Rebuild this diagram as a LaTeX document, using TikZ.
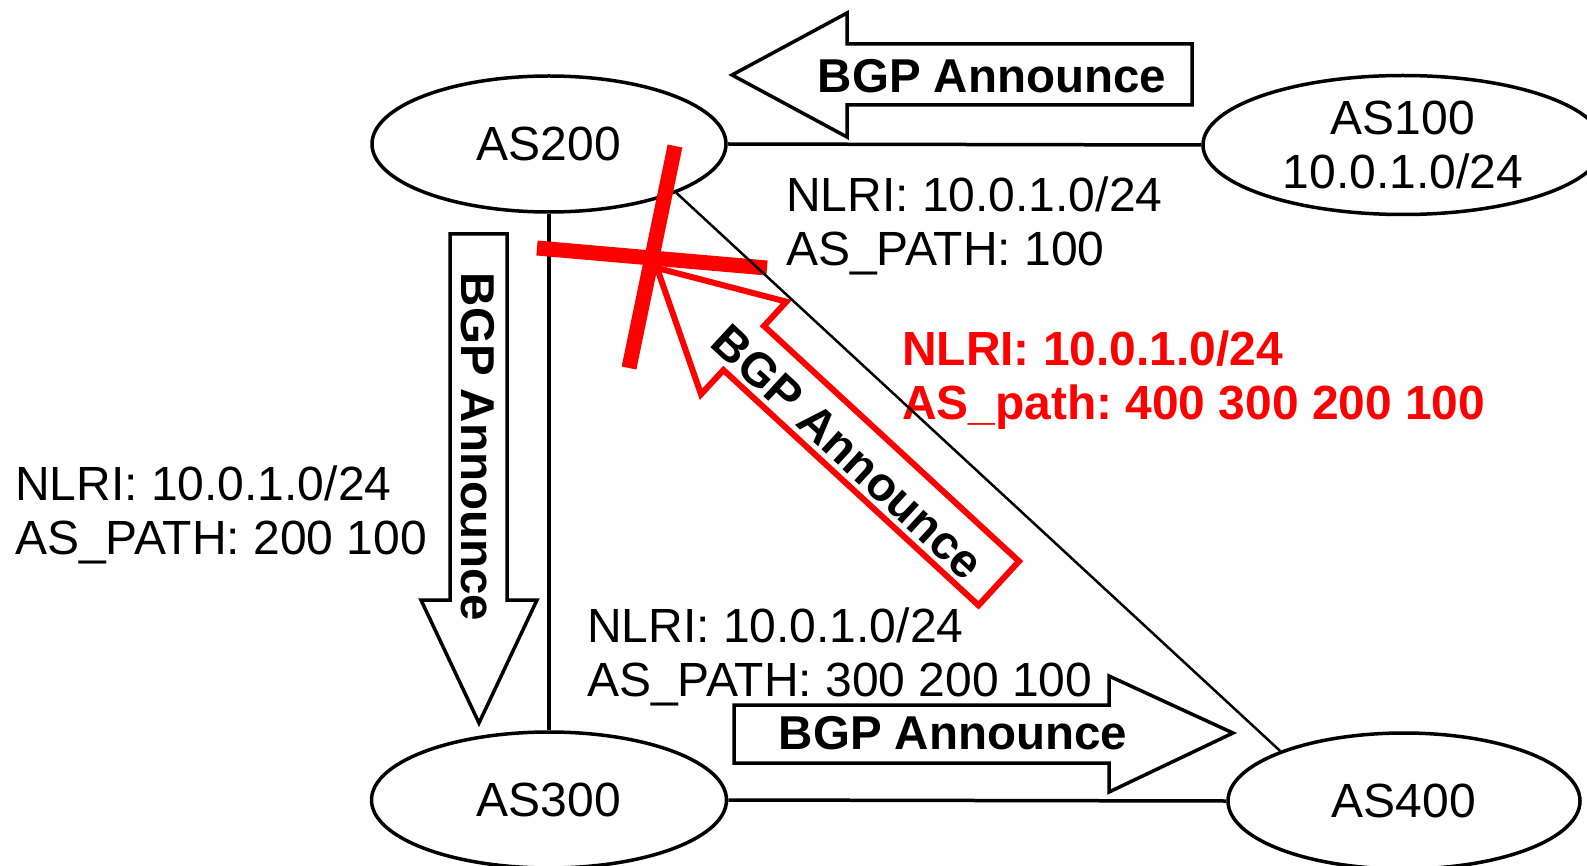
\documentclass[tikz,border=0pt]{standalone}
\usepackage{fontspec}
\setmainfont{Liberation Sans}
\usetikzlibrary{shapes.geometric}
\frenchspacing
\begin{document}
\begin{tikzpicture}[x=1pt,y=-1pt,
  asn/.style={ellipse, draw, line width=3.5pt, inner sep=0pt, align=center,
              font=\fontsize{48}{54}\selectfont},
  link/.style={line width=3.5pt},
  thinlink/.style={line width=2.5pt},
  lbl/.style={font=\fontsize{48}{53.5}\selectfont, align=left, anchor=north west, inner sep=0pt},
  redlbl/.style={font=\fontsize{47.9}{54}\selectfont\bfseries, text=red, align=left, anchor=north west, inner sep=0pt},
  bgp/.style={font=\fontsize{47.5}{54}\selectfont\bfseries, inner sep=0pt},
  blockarrow/.style={draw, line width=3.5pt, fill=white, line join=miter},
  redarrow/.style={draw=red, line width=6pt, fill=white, line join=miter},
  cross/.style={draw=red, line width=15pt}
]
\useasboundingbox (0,0) rectangle (1587,866);
\clip (0,0) rectangle (1587,866);

% AS nodes
\node[asn, minimum width=354pt, minimum height=136pt] (AS200) at (549,144) {AS200};
\node[asn, minimum width=400pt, minimum height=139pt] (AS100) at (1403,145) {AS100\\10.0.1.0/24};
\node[asn, minimum width=355pt, minimum height=136pt] (AS300) at (549,800) {AS300};
\node[asn, minimum width=352pt, minimum height=136pt] (AS400) at (1404,801) {AS400};

% links
\draw[link] (AS200.east) -- (AS100.west);
\draw[link] (AS200.south) -- (AS300.north);
\draw[link] (AS300.east) -- (AS400.west);

% block arrows
\draw[blockarrow] (732,75) -- (847,13) -- (847,44) -- (1192,44) -- (1192,105) -- (847,105) -- (847,137) -- cycle;
\node[bgp] (t1) at (992,76) {BGP Announce};

\draw[blockarrow] (450,234) -- (507,234) -- (507,600) -- (537,600) -- (479,723) -- (421,600) -- (450,600) -- cycle;
\node[bgp, rotate=-90] (t2) at (478,447) {BGP Announce};

\draw[blockarrow] (734,705) -- (1109,705) -- (1109,676) -- (1233,733) -- (1109,792) -- (1109,763) -- (734,763) -- cycle;
\node[bgp] (t3) at (953,733) {BGP Announce};

% red arrow
\draw[redarrow] (657,268) -- (786.4,301.7) -- (764,326) -- (1019,561.3) -- (978.5,605.3) -- (723.4,370) -- (701,394.3) -- cycle;
\node[bgp, rotate=-42.7] (t4) at (848,452) {BGP Announce};

% labels
\node[lbl] (l1) at (786,177) {NLRI: 10.0.1.0/24\\AS\_PATH: 100};
\node[redlbl] (l2) at (902,331) {NLRI: 10.0.1.0/24\\AS\_path: 400 300 200 100};
\node[lbl] (l3) at (15,466) {NLRI: 10.0.1.0/24\\AS\_PATH: 200 100};
\node[lbl] (l4) at (587,608) {NLRI: 10.0.1.0/24\\AS\_PATH: 300 200 100};

% red cross
\draw[cross] (675,146) -- (629,368);
\draw[cross] (537,248) -- (767,268);

% diagonal link
\draw[thinlink] (AS200.-21.6) -- (AS400.158.9);
\end{tikzpicture}
\end{document}
